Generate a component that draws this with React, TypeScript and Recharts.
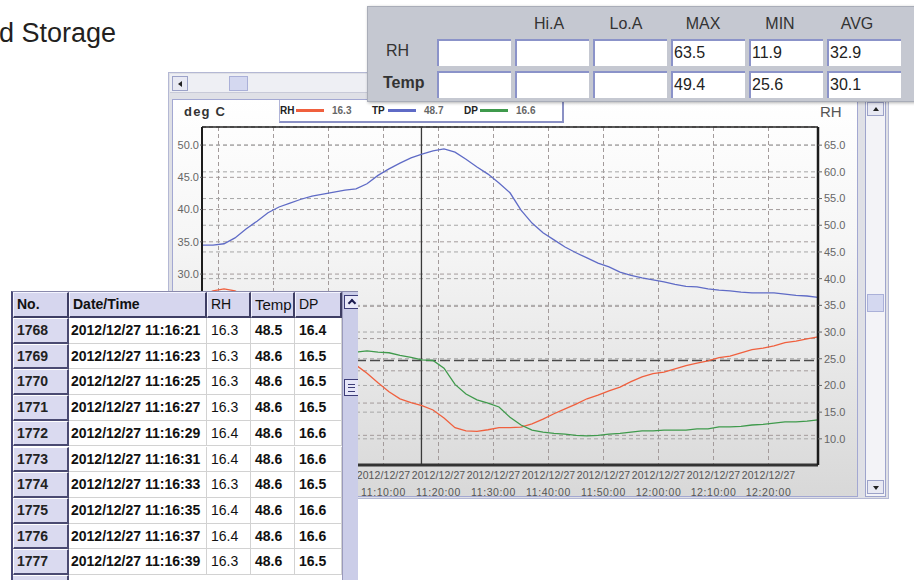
import React from 'react';
import { LineChart, Line, XAxis, YAxis, CartesianGrid, ReferenceLine } from 'recharts';

// logger samples, minutes after 10:00:00 on 2012/12/27
const minutes = [
  37, 39, 41, 43, 45, 47, 49, 51, 53, 55, 57, 59, 61, 63, 65, 67, 69, 71, 73, 75,
  77, 79, 81, 83, 85, 87, 89, 91, 93, 95, 97, 99, 101, 103, 105, 107, 109, 111, 113, 115,
  117, 119, 121, 123, 125, 127, 129, 131, 133, 135, 137, 139, 141, 143, 145, 147, 149,
];

const rhValues = [
  36.8, 37.7, 38.1, 37.7, 36.6, 35.3, 33.9, 32.6, 31.3, 30.0, 28.9, 27.6, 26.3, 25.2, 23.8, 22.3, 20.5, 18.8, 17.5, 16.8,
  16.2, 15.4, 13.9, 12.1, 11.5, 11.4, 11.7, 12.1, 12.1, 12.2, 12.8, 13.7, 14.7, 15.6, 16.5, 17.5, 18.2, 19.0, 19.7, 20.7,
  21.6, 22.2, 22.5, 23.1, 23.7, 24.2, 24.6, 25.2, 25.5, 26.1, 26.7, 27.0, 27.4, 28.0, 28.3, 28.7, 29.1,
];

const tpValues = [
  34.5, 34.5, 34.7, 35.6, 37.0, 38.2, 39.5, 40.4, 41.0, 41.6, 42.1, 42.4, 42.7, 43.0, 43.2, 44.0, 45.3, 46.3, 47.2, 48.0,
  48.6, 49.1, 49.4, 48.9, 47.8, 46.6, 45.5, 44.1, 42.6, 39.9, 37.9, 36.4, 35.3, 34.2, 33.3, 32.5, 31.7, 31.1, 30.3, 29.8,
  29.4, 29.1, 28.8, 28.4, 28.1, 28.0, 27.7, 27.5, 27.4, 27.2, 27.1, 27.1, 27.1, 26.9, 26.7, 26.6, 26.4,
];

const dpValues = [
  17.1, 17.1, 17.3, 17.3, 17.4, 17.4, 17.6, 17.6, 17.8, 17.8, 17.8, 17.9, 17.9, 17.9, 17.9, 18.1, 17.9, 17.8, 17.4, 17.1,
  16.7, 16.6, 15.4, 12.9, 11.4, 10.5, 10.0, 9.4, 7.8, 6.6, 5.8, 5.5, 5.3, 5.2, 5.0, 4.9, 5.0, 5.2, 5.3, 5.5,
  5.7, 5.7, 5.8, 5.8, 5.8, 6.0, 6.0, 6.3, 6.3, 6.4, 6.6, 6.7, 6.9, 7.1, 7.1, 7.2, 7.4,
];

const xTicks = [40, 50, 60, 70, 80, 90, 100, 110, 120, 130, 140];
const tickDate = '2012/12/27';
const tickTimes = [
  '10:40:00', '10:50:00', '11:00:00', '11:10:00', '11:20:00', '11:30:00',
  '11:40:00', '11:50:00', '12:00:00', '12:10:00', '12:20:00',
];
const tempTicks = [5, 10, 15, 20, 25, 30, 35, 40, 45, 50];
const rhTicks = [10, 15, 20, 25, 30, 35, 40, 45, 50, 55, 60, 65];

// labels of these ticks sit under the record list window
const firstVisibleMinute = 70;
const firstVisibleTemp = 30;

// cursor position and its readings
const cursorMinute = 76.9;
const cursorDp = 16.6;
const legendNames = ['RH', 'TP', 'DP'];
const legendValues = ['16.3', '48.7', '16.6'];
const seriesColors = ['#f0603e', '#5f6bc6', '#3f9a4c'];

// statistics box
const statHeaders = ['', 'Hi.A', 'Lo.A', 'MAX', 'MIN', 'AVG'];
const statRows = ['RH', 'Temp'];
const rhStats = ['', '', '', '63.5', '11.9', '32.9'];
const tempStats = ['', '', '', '49.4', '25.6', '30.1'];

// record list
const tableHeaders = ['No.', 'Date/Time', 'RH', 'Temp', 'DP'];
const recordNo = ['1768', '1769', '1770', '1771', '1772', '1773', '1774', '1775', '1776', '1777'];
const recordTime = [
  '2012/12/27 11:16:21', '2012/12/27 11:16:23', '2012/12/27 11:16:25', '2012/12/27 11:16:27',
  '2012/12/27 11:16:29', '2012/12/27 11:16:31', '2012/12/27 11:16:33', '2012/12/27 11:16:35',
  '2012/12/27 11:16:37', '2012/12/27 11:16:39',
];
const recordRh = ['16.3', '16.3', '16.3', '16.3', '16.4', '16.4', '16.3', '16.4', '16.4', '16.3'];
const recordTemp = ['48.5', '48.6', '48.6', '48.6', '48.6', '48.6', '48.6', '48.6', '48.6', '48.6'];
const recordDp = ['16.4', '16.5', '16.5', '16.5', '16.6', '16.6', '16.5', '16.6', '16.6', '16.5'];

const FONT = '"Liberation Sans", Arial, Helvetica, sans-serif';

function TimeTick(props: any) {
  const { x, y, payload } = props;
  const i = xTicks.indexOf(payload.value);
  if (payload.value < firstVisibleMinute) return <g />;
  return (
    <g transform={`translate(${x},${y})`}>
      <text x={0} y={12} textAnchor="middle" fontSize={10.5} fill="#555" fontFamily={FONT} letterSpacing={0.1}>
        {tickDate}
      </text>
      <text x={0} y={29} textAnchor="middle" fontSize={10.5} fill="#555" fontFamily={FONT} letterSpacing={0.6}>
        {tickTimes[i]}
      </text>
    </g>
  );
}

const abs = (left: number, top: number, width: number, height: number, extra: React.CSSProperties = {}) =>
  ({ position: 'absolute', left, top, width, height, boxSizing: 'border-box', ...extra } as React.CSSProperties);

const btn = { background: '#e8e9f3', border: '1px solid #9ca2c8' };

export default function App() {
  const rows = minutes.map((t, i) => ({ t, rh: rhValues[i], tp: tpValues[i], dp: dpValues[i] }));
  const colW = [56, 138, 44, 44, 47];
  const colX = [0, 56, 194, 238, 282];
  const recordCols = [recordNo, recordTime, recordRh, recordTemp, recordDp];

  return (
    <div style={{ position: 'absolute', left: 0, top: 0, width: 914, height: 580, overflow: 'hidden', background: '#fff', fontFamily: FONT }}>
      <div style={{ position: 'absolute', left: -1, top: 20, fontSize: 27, lineHeight: '27px', color: '#231f20' }}>d Storage</div>

      {/* logger window frame */}
      <div style={abs(168, 72, 721, 427, { background: '#dfe0e6', border: '1px solid #b4b8d4' })} />
      <div style={abs(170, 74, 700, 19, { background: '#eeeff4', borderBottom: '1px solid #c8cad8' })} />
      <div style={abs(172, 76, 16, 15, btn)}>
        <div style={{ position: 'absolute', left: 5, top: 4, width: 0, height: 0, borderTop: '3px solid transparent', borderBottom: '3px solid transparent', borderRight: '4px solid #222' }} />
      </div>
      <div style={abs(229, 76, 19, 15, { background: '#d4d8f0', border: '1px solid #aab0d8' })} />

      {/* chart panel */}
      <div style={abs(172, 99, 686, 398, { border: '1px solid #a3a8d2', background: 'linear-gradient(#ffffff 0%, #f6f6f6 35%, #d8d8d8 100%)' })} />
      <div style={abs(865, 100, 21, 397, { background: '#f3f3f7', border: '1px solid #9ea4cc' })} />
      <div style={abs(867, 102, 17, 14, btn)}>
        <div style={{ position: 'absolute', left: 5, top: 4, width: 0, height: 0, borderLeft: '3px solid transparent', borderRight: '3px solid transparent', borderBottom: '4px solid #222' }} />
      </div>
      <div style={abs(867, 294, 17, 18, { background: '#d4d8f0', border: '1px solid #aab0d8' })} />
      <div style={abs(867, 480, 17, 14, btn)}>
        <div style={{ position: 'absolute', left: 5, top: 5, width: 0, height: 0, borderLeft: '3px solid transparent', borderRight: '3px solid transparent', borderTop: '4px solid #222' }} />
      </div>

      <div style={{ position: 'absolute', left: 168, top: 100 }}>
        <LineChart width={700} height={400} data={rows} margin={{ top: 27, right: 4, bottom: 5, left: 4 }}>
          <CartesianGrid yAxisId="left" stroke="#a39b9b" strokeDasharray="4 3" />
          <CartesianGrid yAxisId="right" vertical={false} stroke="#a6a6a6" strokeDasharray="4 3" />
          <XAxis
            dataKey="t"
            type="number"
            domain={[37, 149]}
            allowDataOverflow
            ticks={xTicks}
            interval={0}
            height={30}
            tickSize={0}
            tickLine={false}
            axisLine={{ stroke: '#333', strokeWidth: 3 }}
            tick={<TimeTick />}
          />
          <YAxis
            yAxisId="left"
            type="number"
            domain={[0.4, 52.8]}
            allowDataOverflow
            ticks={tempTicks}
            interval={0}
            width={30}
            tickSize={2}
            tickMargin={1}
            axisLine={{ stroke: '#1c1c1c', strokeWidth: 2 }}
            tickLine={{ stroke: '#666' }}
            tick={{ fontSize: 11, fill: '#666', fontFamily: FONT }}
            tickFormatter={(v: number) => (v >= firstVisibleTemp ? v.toFixed(1) : '')}
          />
          <YAxis
            yAxisId="right"
            orientation="right"
            type="number"
            domain={[5.1, 68.4]}
            allowDataOverflow
            ticks={rhTicks}
            interval={0}
            width={46}
            tickSize={4}
            tickMargin={2}
            axisLine={{ stroke: '#1c1c1c', strokeWidth: 2.5 }}
            tickLine={{ stroke: '#666' }}
            tick={{ fontSize: 11, fill: '#666', fontFamily: FONT }}
            tickFormatter={(v: number) => v.toFixed(1)}
          />
          <ReferenceLine yAxisId="left" y={52.8} stroke="#222" strokeWidth={1.5} />
          <ReferenceLine yAxisId="left" x={cursorMinute} stroke="#3a3a3a" strokeWidth={1.3} />
          <ReferenceLine yAxisId="left" y={cursorDp} stroke="#4a4a4a" strokeWidth={1.3} strokeDasharray="10 4" />
          <Line yAxisId="right" type="linear" dataKey="rh" stroke={seriesColors[0]} strokeWidth={1.3} dot={false} isAnimationActive={false} />
          <Line yAxisId="left" type="linear" dataKey="tp" stroke={seriesColors[1]} strokeWidth={1.3} dot={false} isAnimationActive={false} />
          <Line yAxisId="left" type="linear" dataKey="dp" stroke={seriesColors[2]} strokeWidth={1.3} dot={false} isAnimationActive={false} />
        </LineChart>
      </div>

      <div style={{ position: 'absolute', left: 184, top: 104, fontSize: 13, fontWeight: 'bold', color: '#333', letterSpacing: 1.2 }}>deg C</div>
      <div style={{ position: 'absolute', left: 820, top: 103, fontSize: 15, color: '#555' }}>RH</div>

      {/* legend */}
      <div style={abs(279, 100, 285, 23, { background: '#fff', borderLeft: '1px solid #b0b4d8', borderRight: '2px solid #8a90c4', borderBottom: '2px solid #8a90c4', display: 'flex', alignItems: 'center' })}>
        {legendNames.map((n, i) => (
          <div key={n} style={{ display: 'flex', alignItems: 'center', width: 92, fontSize: 10, fontWeight: 'bold' }}>
            <span style={{ color: '#222', width: 16 }}>{n}</span>
            <span style={{ display: 'inline-block', width: 28, height: 3, background: seriesColors[i], marginRight: 8 }} />
            <span style={{ color: '#666' }}>{legendValues[i]}</span>
          </div>
        ))}
      </div>

      {/* statistics box */}
      <div style={abs(367, 6, 560, 96, { background: '#c5c8d1', border: '1px solid #a9adb8', boxShadow: '1px 1px 3px rgba(0,0,0,0.3)' })}>
        {statHeaders.map((h, k) => (
          <div key={'h' + k} style={abs(69 + k * 78, 6, 74, 22, { textAlign: 'center', paddingRight: 4 + k * 2, fontSize: 16, lineHeight: '22px', color: '#333' })}>{h}</div>
        ))}
        {statRows.map((r, j) => (
          <React.Fragment key={r}>
            <div style={{ position: 'absolute', left: r === 'RH' ? 18 : 15, top: 33 + j * 32, fontSize: 16, lineHeight: '22px', color: '#333', fontWeight: r === 'Temp' ? 'bold' : 'normal' }}>{r}</div>
            {(j === 0 ? rhStats : tempStats).map((v, k) => (
              <div key={k} style={abs(69 + k * 78, 32 + j * 32, 74, 27, { background: '#fff', borderTop: '2px solid #8b93c9', borderLeft: '2px solid #8b93c9', fontSize: 16, lineHeight: '24px', paddingLeft: 1, color: '#222' })}>{v}</div>
            ))}
          </React.Fragment>
        ))}
      </div>

      {/* record list */}
      <div style={abs(11, 291, 347, 289, { background: '#fff', borderLeft: '2px solid #4a4a78', borderTop: '1px solid #8a8aac', overflow: 'hidden' })}>
        {tableHeaders.map((h, i) => (
          <div key={h} style={abs(colX[i], 0, colW[i], 26, { background: '#d6d6ee', borderTop: '1px solid #f4f4ff', borderLeft: '1px solid #f4f4ff', borderRight: '2px solid #3e3e64', borderBottom: '2px solid #3e3e64', paddingLeft: 3, fontSize: h === 'Temp' ? 15 : 14, fontWeight: i < 2 ? 'bold' : 'normal', lineHeight: '23px', color: '#111' })}>{h}</div>
        ))}
        {recordNo.map((_, r) => (
          <React.Fragment key={r}>
            {recordCols.map((col, i) => (
              <div
                key={i}
                style={abs(colX[i], 26 + r * 25.7, colW[i], 25.7, i === 0
                  ? { background: '#dadaf0', borderTop: '1px solid #fff', borderLeft: '1px solid #fff', borderRight: '2px solid #4a4a72', borderBottom: '2px solid #4a4a72', paddingLeft: 3, fontSize: 14, fontWeight: 'bold', lineHeight: '23px', color: '#222' }
                  : { borderRight: '1px solid #d2d2d2', borderBottom: '1px solid #d2d2d2', paddingLeft: i === 1 ? 2 : 4, fontSize: 14, fontWeight: i === 2 ? 'normal' : 'bold', lineHeight: '24px', color: '#111' })}
              >
                {col[r]}
              </div>
            ))}
          </React.Fragment>
        ))}
        <div style={abs(0, 283, 56, 10, { background: '#dadaf0', borderTop: '1px solid #fff', borderRight: '2px solid #4a4a72' })} />
        <div style={abs(329, 0, 18, 289, { background: '#cbcde8', borderLeft: '1px solid #9a9abc' })}>
          <div style={abs(1, 3, 15, 14, { background: '#e8e8f8', border: '1px solid #3c3c78' })}>
            <div style={{ position: 'absolute', left: 4, top: 4, width: 4, height: 4, borderTop: '2px solid #1c1c50', borderLeft: '2px solid #1c1c50', transform: 'rotate(45deg)' }} />
          </div>
          <div style={abs(1, 87, 15, 17, { background: '#e6e6f8', border: '1px solid #3c3c78' })}>
            <div style={{ position: 'absolute', left: 3, top: 4, width: 7, height: 6, borderTop: '1px solid #3c3c78', borderBottom: '1px solid #3c3c78' }} />
            <div style={{ position: 'absolute', left: 3, top: 7, width: 7, height: 0, borderTop: '1px solid #3c3c78' }} />
          </div>
        </div>
      </div>
    </div>
  );
}
